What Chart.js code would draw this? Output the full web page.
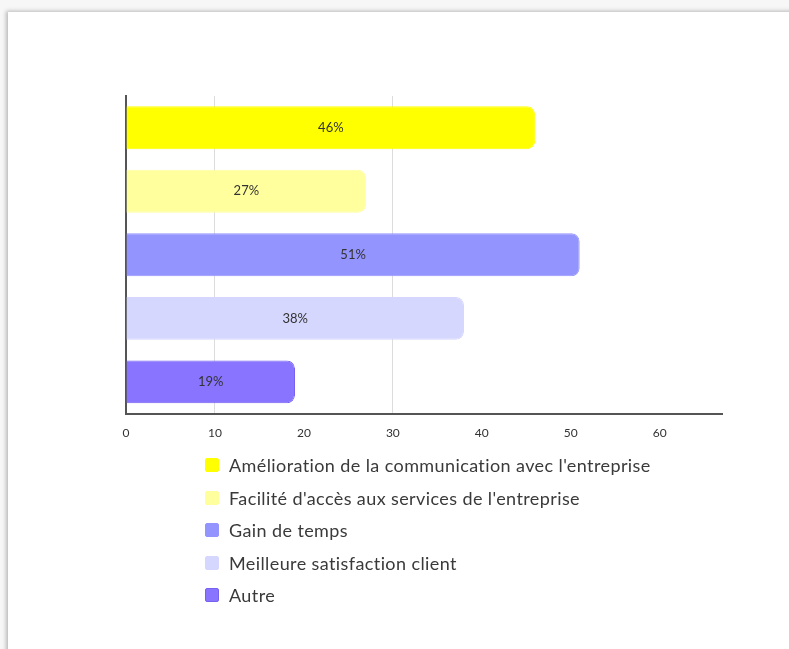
<!DOCTYPE html>
<html>
<head>
<meta charset="utf-8">
<script src="https://cdn.jsdelivr.net/npm/chart.js@4.4.0/dist/chart.umd.min.js"></script>
<style>
  body { margin: 0; background: #f7f7f7; font-family: Lato, "Open Sans", sans-serif; }
  .card { position: absolute; left: 8px; top: 12px; width: 800px; height: 660px; background: #fff;
          box-shadow: -2px -1px 4px rgba(0,0,0,0.25); }
  #wrap { position: absolute; left: 0; top: 0; width: 789px; height: 450px; }
  #legend { position: absolute; left: 205px; top: 449px; font-size: 18px; letter-spacing: 0.4px; color: #3a3a3a; }
  #legend .row { height: 32.5px; display: flex; align-items: center; }
  #legend .box { width: 14px; height: 14px; border-radius: 2px; margin-right: 10px; box-sizing: border-box; }
</style>
</head>
<body>
<div class="card"></div>
<div id="wrap"><canvas id="chart" width="789" height="450"></canvas></div>
<div id="legend"></div>
<script>
const categories = [
  "Amélioration de la communication avec l'entreprise",
  "Facilité d'accès aux services de l'entreprise",
  "Gain de temps",
  "Meilleure satisfaction client",
  "Autre"
];
const values = [46, 27, 51, 38, 19];
const xTicks = [0, 10, 20, 30, 40, 50, 60];
const gridAt = [10, 30];

const colors = ['#ffff00', '#ffff9e', '#9494ff', '#d6d7fe', '#8874ff'];
const borders = ['#ffff00', '#ffff9e', '#9494ff', '#d6d7fe', '#7563f0'];

// percent labels in the middle of each bar
const barLabels = {
  id: 'barLabels',
  afterDatasetsDraw(chart) {
    const c = chart.ctx;
    const meta = chart.getDatasetMeta(0);
    c.save();
    c.font = '13px Lato, sans-serif';
    c.fillStyle = '#333';
    c.textAlign = 'center';
    c.textBaseline = 'middle';
    meta.data.forEach((bar, i) => {
      const p = bar.getProps(['x', 'y', 'base'], true);
      c.fillText(values[i] + '%', (p.x + p.base) / 2, p.y);
    });
    c.restore();
  }
};

new Chart(document.getElementById('chart'), {
  type: 'bar',
  data: {
    labels: categories,
    datasets: [{
      data: values,
      backgroundColor: colors,
      borderColor: borders,
      borderWidth: 1,
      borderRadius: 8,
      borderSkipped: 'start',
      barPercentage: 0.75,
      categoryPercentage: 0.9
    }]
  },
  options: {
    indexAxis: 'y',
    responsive: false,
    animation: false,
    layout: { padding: { left: 126, right: 67, top: 96, bottom: 2 } },
    plugins: { legend: { display: false }, tooltip: { enabled: false } },
    scales: {
      x: {
        min: 0,
        max: 67,
        afterBuildTicks: (axis) => { axis.ticks = xTicks.map(v => ({ value: v })); },
        ticks: { color: '#333', font: { size: 12, family: 'Lato' }, padding: 8 },
        grid: {
          color: (ctx) => gridAt.includes(ctx.tick && ctx.tick.value) ? '#dcdcdc' : 'rgba(0,0,0,0)',
          tickLength: 4,
          tickColor: 'rgba(0,0,0,0)'
        },
        border: { color: '#555', width: 2 }
      },
      y: {
        ticks: { display: false },
        grid: { display: false, drawTicks: false },
        border: { color: '#555', width: 2 }
      }
    }
  },
  plugins: [barLabels]
});

const legend = document.getElementById('legend');
categories.forEach((name, i) => {
  const row = document.createElement('div');
  row.className = 'row';
  const box = document.createElement('span');
  box.className = 'box';
  box.style.background = colors[i];
  box.style.border = '1px solid ' + borders[i];
  const txt = document.createElement('span');
  txt.textContent = name;
  row.appendChild(box);
  row.appendChild(txt);
  legend.appendChild(row);
});
</script>
</body>
</html>
